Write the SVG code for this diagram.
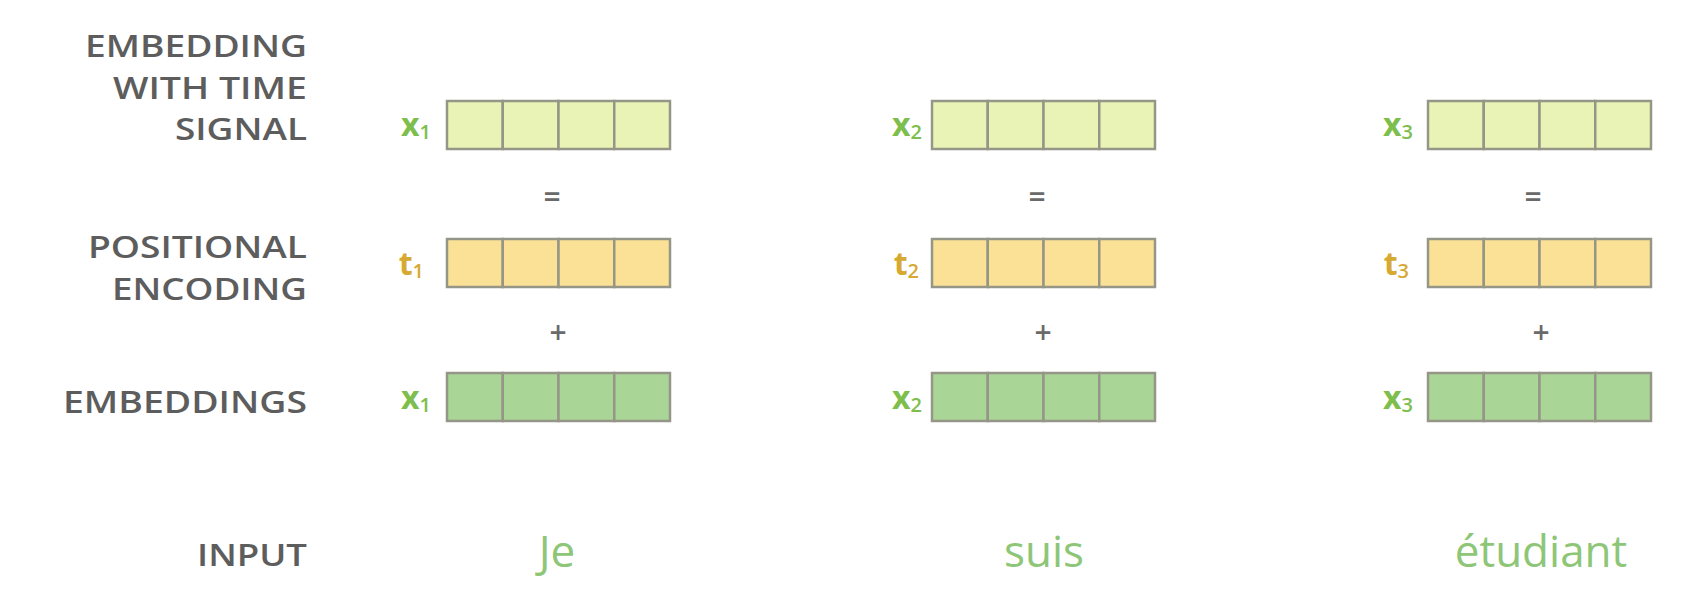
<svg xmlns="http://www.w3.org/2000/svg" width="1692" height="590" viewBox="0 0 1692 590">
<style>
.lbl{font-family:"Open Sans","Liberation Sans",sans-serif;font-weight:600;font-size:30px;fill:#5d5d5d;text-anchor:end}
.cell{stroke:#969688;stroke-width:2.5}
.emb-t{fill:#e9f3b6}
.pos{fill:#fae195}
.emb{fill:#a9d597}
.vx{font-family:"Open Sans","Liberation Sans",sans-serif;font-weight:700;font-size:32px;fill:#7dbe4c;text-anchor:end}
.vt{font-family:"Open Sans","Liberation Sans",sans-serif;font-weight:700;font-size:32px;fill:#d6a933;text-anchor:end}
.sub{font-size:20px;font-weight:600}
.op{font-family:"Open Sans","Liberation Sans",sans-serif;font-size:30px;font-weight:600;fill:#6a6a6a;text-anchor:middle}
.word{font-family:"Open Sans","Liberation Sans",sans-serif;font-size:44px;fill:#8ec678;text-anchor:middle}
</style>
<defs>
<g id="vec">
<rect x="0" y="0" width="55.75" height="48"/>
<rect x="55.75" y="0" width="55.75" height="48"/>
<rect x="111.5" y="0" width="55.75" height="48"/>
<rect x="167.25" y="0" width="55.75" height="48"/>
</g>
</defs>
<rect width="1692" height="590" fill="#ffffff"/>
<g id="row-labels">
<text class="lbl" x="307" y="57" textLength="222" lengthAdjust="spacingAndGlyphs">EMBEDDING</text>
<text class="lbl" x="307" y="99" textLength="194" lengthAdjust="spacingAndGlyphs">WITH TIME</text>
<text class="lbl" x="307" y="140" textLength="132" lengthAdjust="spacingAndGlyphs">SIGNAL</text>
<text class="lbl" x="307" y="258" textLength="219" lengthAdjust="spacingAndGlyphs">POSITIONAL</text>
<text class="lbl" x="307" y="300" textLength="195" lengthAdjust="spacingAndGlyphs">ENCODING</text>
<text class="lbl" x="307" y="413" textLength="244" lengthAdjust="spacingAndGlyphs">EMBEDDINGS</text>
<text class="lbl" x="307" y="566" textLength="110" lengthAdjust="spacingAndGlyphs">INPUT</text>
</g>
<g id="word1">
<g id="w1-sig"><use href="#vec" x="447" y="101" class="cell emb-t"/><text class="vx" x="431" y="136">x<tspan class="sub" dy="3">1</tspan></text></g>
<g id="w1-pos"><use href="#vec" x="447" y="239" class="cell pos"/><text class="vt" x="424" y="275">t<tspan class="sub" dy="3">1</tspan></text></g>
<g id="w1-emb"><use href="#vec" x="447" y="373" class="cell emb"/><text class="vx" x="431" y="409">x<tspan class="sub" dy="3">1</tspan></text></g>
<text class="op" x="552" y="208">=</text>
<text class="op" x="558" y="343">+</text>
<text class="word" x="557" y="567">Je</text>
</g>
<g id="word2">
<g id="w2-sig"><use href="#vec" x="932" y="101" class="cell emb-t"/><text class="vx" x="922" y="136">x<tspan class="sub" dy="3">2</tspan></text></g>
<g id="w2-pos"><use href="#vec" x="932" y="239" class="cell pos"/><text class="vt" x="919" y="275">t<tspan class="sub" dy="3">2</tspan></text></g>
<g id="w2-emb"><use href="#vec" x="932" y="373" class="cell emb"/><text class="vx" x="922" y="409">x<tspan class="sub" dy="3">2</tspan></text></g>
<text class="op" x="1037" y="208">=</text>
<text class="op" x="1043" y="343">+</text>
<text class="word" x="1044" y="567">suis</text>
</g>
<g id="word3">
<g id="w3-sig"><use href="#vec" x="1428" y="101" class="cell emb-t"/><text class="vx" x="1413" y="136">x<tspan class="sub" dy="3">3</tspan></text></g>
<g id="w3-pos"><use href="#vec" x="1428" y="239" class="cell pos"/><text class="vt" x="1409" y="275">t<tspan class="sub" dy="3">3</tspan></text></g>
<g id="w3-emb"><use href="#vec" x="1428" y="373" class="cell emb"/><text class="vx" x="1413" y="409">x<tspan class="sub" dy="3">3</tspan></text></g>
<text class="op" x="1533" y="208">=</text>
<text class="op" x="1541" y="343">+</text>
<text class="word" x="1541" y="567">étudiant</text>
</g>
<g id="connectors"></g>
</svg>
